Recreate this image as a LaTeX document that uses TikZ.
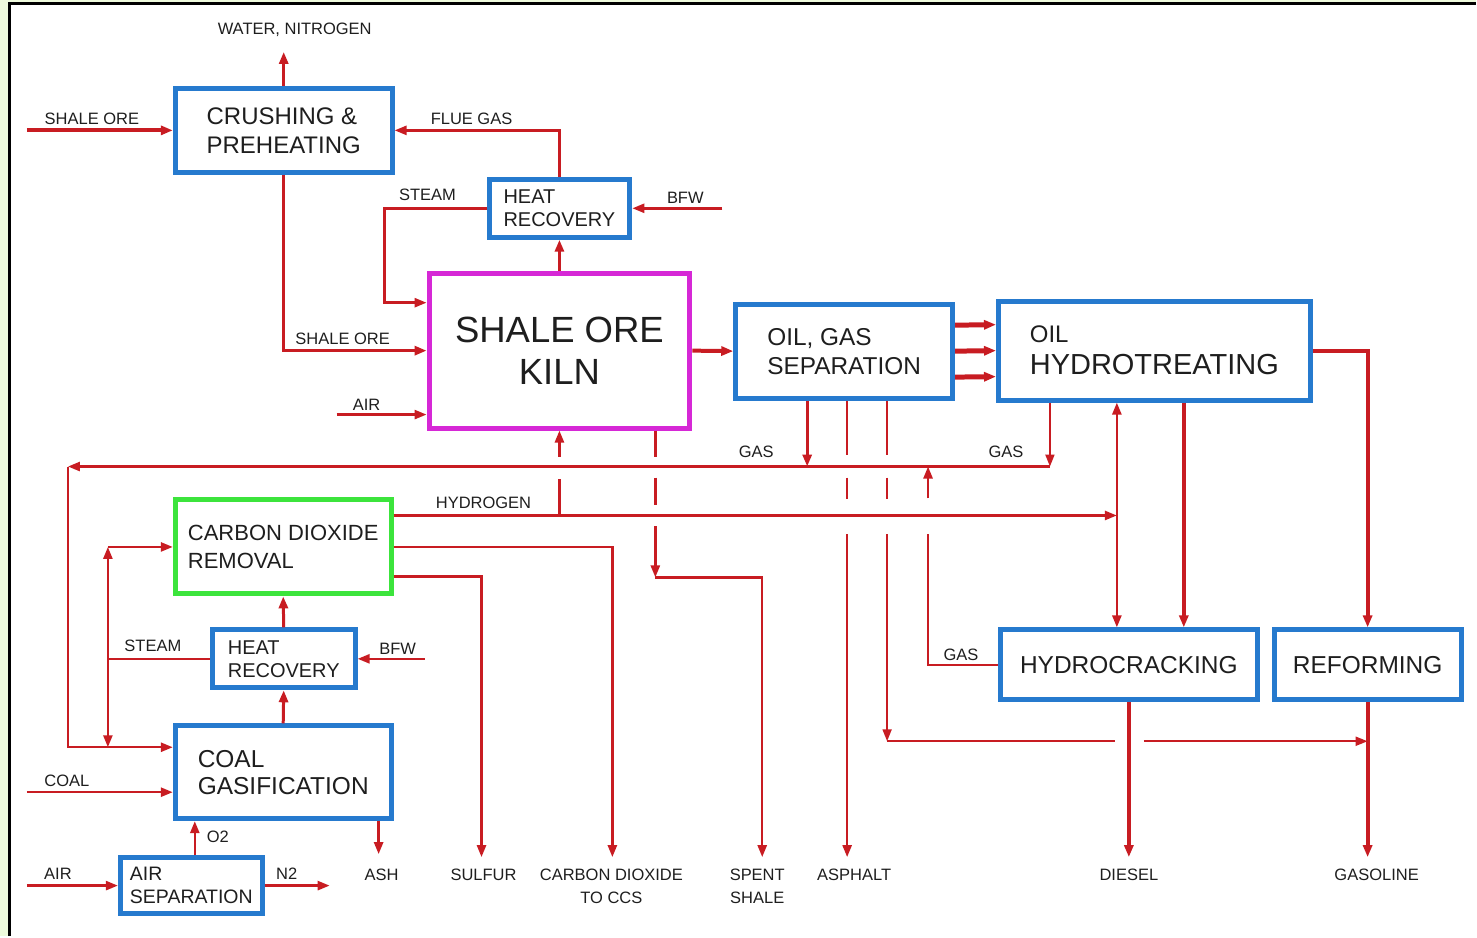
\documentclass[tikz,border=0pt]{standalone}
\usepackage{fontspec}
\setmainfont{Liberation Sans}
\usetikzlibrary{arrows.meta,calc}
\definecolor{boxblue}{RGB}{38,122,206}
\definecolor{kmag}{RGB}{214,40,214}
\definecolor{cgreen}{RGB}{60,228,60}
\definecolor{fred}{RGB}{200,28,34}
\definecolor{txt}{RGB}{30,30,30}
\definecolor{bggreen}{RGB}{238,250,220}
\begin{document}
\begin{tikzpicture}[x=1pt,y=-1pt,
  box/.style={draw=boxblue, line width=5pt, fill=white, inner sep=0pt, text=txt, align=left},
  f/.style={draw=fred, line width=2.5pt},
  ft/.style={draw=fred, line width=2pt},
  fm/.style={draw=fred, line width=3pt},
  fk/.style={draw=fred, line width=4pt},
  arr/.style={-{Triangle[length=12pt,width=9pt]}},
  barr/.style={{Triangle[length=12pt,width=9pt]}-{Triangle[length=12pt,width=9pt]}},
  lbl/.style={inner sep=0pt, text=txt, font=\fontsize{16.5}{23}\selectfont, align=center}]

% background and frame
\fill[bggreen] (0,0) rectangle (1477,937);
\fill[white] (10,4) rectangle (1477,937);
\draw[black,line width=3pt] (10,937) -- (10,4) -- (1477,4);
\useasboundingbox (0,0) rectangle (1477,937);

% boxes
\node[box, minimum width=217pt, minimum height=84pt, font=\fontsize{24}{29}\selectfont] (crush) at (284,130.5) {CRUSHING \&\\PREHEATING};
\node[box, minimum width=141pt, minimum height=58pt, font=\fontsize{20}{23}\selectfont] (hr1) at (560,208.5) {HEAT\\RECOVERY};
\node[box, draw=kmag, minimum width=261pt, minimum height=155pt, align=center, font=\fontsize{36.5}{42}\selectfont] (kiln) at (560,351) {SHALE ORE\\KILN};
\node[box, minimum width=217pt, minimum height=94pt, font=\fontsize{24.4}{29}\selectfont] (ogs) at (845,351.5) {OIL, GAS\\SEPARATION};
\node[box, minimum width=312pt, minimum height=99pt, font=\fontsize{29}{32}\selectfont] (oht) at (1155.5,351) {{\fontsize{24}{29}\selectfont OIL}\\HYDROTREATING};
\node[box, draw=cgreen, minimum width=216pt, minimum height=94pt, font=\fontsize{22}{28}\selectfont] (cdr) at (283.5,547.5) {CARBON DIOXIDE\\REMOVAL};
\node[box, minimum width=143pt, minimum height=58pt, font=\fontsize{20}{23}\selectfont] (hr2) at (284,659.5) {HEAT\\RECOVERY};
\node[box, minimum width=216pt, minimum height=93pt, font=\fontsize{24.5}{27}\selectfont] (coal) at (283.5,773) {COAL\\GASIFICATION};
\node[box, minimum width=142pt, minimum height=56pt, font=\fontsize{19.5}{23}\selectfont] (airsep) at (191.5,886.5) {AIR\\SEPARATION};
\node[box, minimum width=257pt, minimum height=70pt, font=\fontsize{24.5}{29}\selectfont] (hc) at (1130,665.5) {HYDROCRACKING};
\node[box, minimum width=187pt, minimum height=70pt, font=\fontsize{24.5}{29}\selectfont] (ref) at (1369,665.5) {REFORMING};

% helper coordinates
\coordinate (shaleIn) at (27,130.5);
\coordinate (wnOut) at (284,52);
\coordinate (bfwA) at (723,208.5);
\coordinate (stA) at (385,208.5);
\coordinate (airA) at (337,415);
\coordinate (bfwB) at (425,659.5);
\coordinate (coalIn) at (27,793);
\coordinate (airIn) at (27,886.5);
\coordinate (n2Out) at (330,886.5);
\coordinate (xA) at (1185,0);
\coordinate (xH) at (1118,0);
\coordinate (xG2) at (1051,0);
\coordinate (xG1) at (808,0);
\coordinate (xAs) at (848,0);
\coordinate (xR) at (888,0);
\coordinate (xHg) at (929,0);
\coordinate (xSp) at (656,0);
\coordinate (xSp2) at (763,0);
\coordinate (xL) at (68,0);
\coordinate (xSt) at (108,0);
\coordinate (xCO2) at (613,0);
\coordinate (xSu) at (482,0);
\coordinate (xO2) at (195,0);
\coordinate (xAsh) at (379,0);
\coordinate (yGas) at (0,467);
\coordinate (yH2) at (0,516);
\coordinate (yBot) at (0,858);
\coordinate (yR) at (0,742);
\coordinate (ySp) at (0,578);
\coordinate (yCg) at (0,748);
\coordinate (ySu) at (0,577);
\coordinate (yAsh) at (0,855);
\coordinate (ySt1) at (0,303);

% top section
\draw[fk,arr] (shaleIn) -- (crush.west);
\draw[fm,arr] (crush.north) -- (wnOut);
\draw[f,arr] (hr1.north) |- (crush.east);
\draw[f,arr] (bfwA) -- (hr1.east);
\draw[f,arr] (hr1.west) -- (stA) |- (kiln.west |- ySt1);
\draw[fm,arr] (kiln.north) -- (hr1.south);
\draw[fm,arr] (crush.south) |- (kiln.west);
\draw[f,arr] (airA) -- (airA -| kiln.west);
\draw[fk,arr] (kiln.east) -- (ogs.west);
\draw[line width=5pt,draw=fred,arr] ($(ogs.east)+(0,-26)$) -- ($(oht.west)+(0,-26)$);
\draw[line width=5pt,draw=fred,arr] (ogs.east) -- (oht.west);
\draw[line width=5pt,draw=fred,arr] ($(ogs.east)+(0,26)$) -- ($(oht.west)+(0,26)$);
\draw[fk,arr] (oht.east) -| (ref.north);
\draw[fk,arr] (oht.south -| xA) -- (hc.north -| xA);

% hydrogen
\draw[f,arr] (cdr.east |- yH2) -- (xH |- yH2);
\draw[f,barr] (xH |- oht.south) -- (xH |- hc.north);
\draw[f] (kiln.south |- yH2) -- ($(kiln.south |- yGas)+(0,12)$);
\draw[f,arr] ($(kiln.south |- yGas)+(0,-10)$) -- (kiln.south);

% gas collection
\draw[fm,arr] (ogs.south -| xG1) -- (xG1 |- yGas);
\draw[ft,arr] (oht.south -| xG2) -- (xG2 |- yGas);
\draw[f,arr] (xG2 |- yGas) -- (xL |- yGas);
\draw[f,arr] (xL |- yGas) |- (coal.west |- yCg);
\draw[f] (hc.west) -| ($(xHg |- yH2)+(0,19)$);
\draw[f,arr] ($(xHg |- yH2)+(0,-17)$) -- (xHg |- yGas);

% asphalt
\draw[f] (ogs.south -| xAs) -- ($(xAs |- yGas)+(0,-12)$);
\draw[f] ($(xAs |- yGas)+(0,11)$) -- ($(xAs |- yH2)+(0,-16)$);
\draw[f,arr] ($(xAs |- yH2)+(0,19)$) -- (xAs |- yBot);
% to reforming/gasoline
\draw[ft] (ogs.south -| xR) -- ($(xR |- yGas)+(0,-12)$);
\draw[ft] ($(xR |- yGas)+(0,11)$) -- ($(xR |- yH2)+(0,-16)$);
\draw[ft,arr] ($(xR |- yH2)+(0,19)$) -- (xR |- yR);
\draw[ft] (xR |- yR) -- ($(hc.south |- yR)+(-14,0)$);
\draw[ft,arr] ($(hc.south |- yR)+(15,0)$) -- (ref.south |- yR);

% spent shale
\draw[f] (kiln.south -| xSp) -- ($(xSp |- yGas)+(0,-10)$);
\draw[f] ($(xSp |- yGas)+(0,11)$) -- ($(xSp |- yH2)+(0,-10)$);
\draw[f,arr] ($(xSp |- yH2)+(0,11)$) -- (xSp |- ySp);
\draw[f,arr] (xSp |- ySp) -| (xSp2 |- yBot);

% carbon dioxide removal outputs
\draw[f,arr] (cdr.east) -| (xCO2 |- yBot);
\draw[f,arr] (cdr.east |- ySu) -| (xSu |- yBot);

% products
\draw[fk,arr] (hc.south) -- (hc.south |- yBot);
\draw[fk,arr] (ref.south) -- (ref.south |- yBot);

% coal side
\draw[fm,arr] (coal.north) -- (hr2.south);
\draw[fm,arr] (hr2.north) -- (cdr.south);
\draw[f,arr] (bfwB) -- (hr2.east);
\draw[f] (hr2.west) -- (xSt |- hr2.west);
\draw[f,barr] (xSt |- cdr.west) -- (xSt |- yCg);
\draw[f,arr] (xSt |- cdr.west) -- (cdr.west);
\draw[f,arr] (coalIn) -- (coalIn -| coal.west);
\draw[f,arr] (airsep.north -| xO2) -- (coal.south -| xO2);
\draw[f,arr] (coal.south -| xAsh) -- (xAsh |- yAsh);
\draw[f,arr] (airIn) -- (airsep.west);
\draw[f,arr] (airsep.east) -- (n2Out);

% labels
\node[lbl] (lWN) at (295,30) {WATER, NITROGEN};
\node[lbl] (lSO1) at (92,119) {SHALE ORE};
\node[lbl] (lFG) at (472,119) {FLUE GAS};
\node[lbl] (lST1) at (428,195) {STEAM};
\node[lbl] (lBFW1) at (686,198) {BFW};
\node[lbl] (lSO2) at (343,339) {SHALE ORE};
\node[lbl] (lAIR1) at (367,405) {AIR};
\node[lbl] (lGAS1) at (757,452) {GAS};
\node[lbl] (lGAS2) at (1007,452) {GAS};
\node[lbl] (lH2) at (484,503) {HYDROGEN};
\node[lbl] (lST2) at (153,646) {STEAM};
\node[lbl] (lBFW2) at (398,649) {BFW};
\node[lbl] (lGAS3) at (962,655) {GAS};
\node[lbl] (lCOAL) at (67,782) {COAL};
\node[lbl] (lO2) at (218,838) {O2};
\node[lbl] (lAIR2) at (58,875) {AIR};
\node[lbl] (lN2) at (287,875) {N2};
\node[lbl] (lASH) at (382,876) {ASH};
\node[lbl] (lSU) at (484,876) {SULFUR};
\node[lbl] (lCO2) at (612,887.5) {CARBON DIOXIDE\\TO CCS};
\node[lbl] (lSP) at (758,887) {SPENT\\SHALE};
\node[lbl] (lAS) at (855,876) {ASPHALT};
\node[lbl] (lDI) at (1130,876) {DIESEL};
\node[lbl] (lGA) at (1378,876) {GASOLINE};
\end{tikzpicture}
\end{document}
